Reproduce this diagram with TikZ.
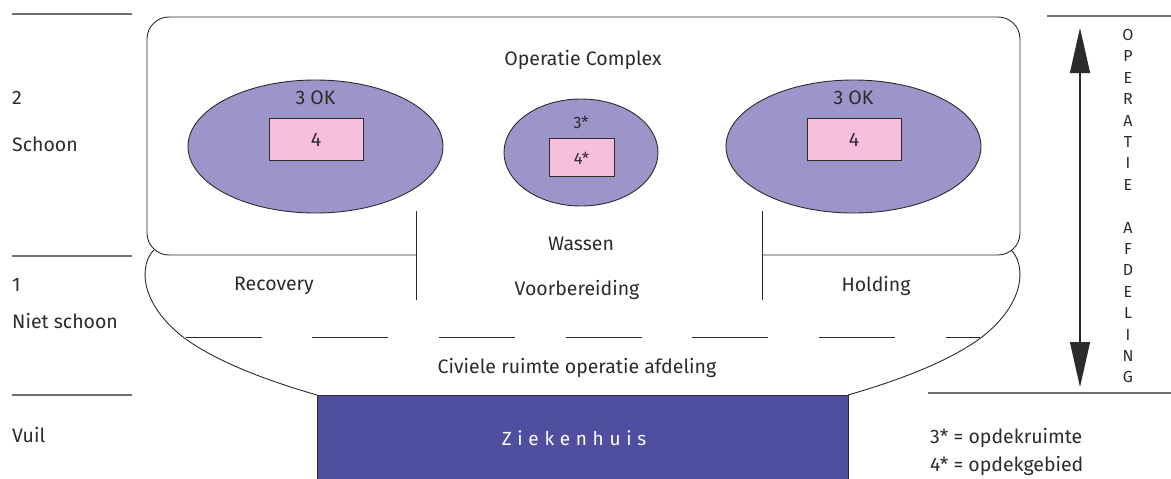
\documentclass[tikz,border=0pt]{standalone}
\usepackage{fontspec}
\setmainfont{Fira Sans}
\usetikzlibrary{arrows.meta,shapes.geometric}
\definecolor{ink}{HTML}{2B2B2B}
\definecolor{zone}{HTML}{707070}
\definecolor{otfill}{HTML}{9C95C9}
\definecolor{opfill}{HTML}{F6C0DC}
\definecolor{hospital}{HTML}{4F4FA0}
\tikzset{
  wall/.style={draw=ink, line width=0.9pt},
  zoneline/.style={draw=zone, line width=1.3pt},
  lbl/.style={text=ink, font=\fontsize{19.5}{22}\selectfont, inner sep=0pt},
  side/.style={lbl, anchor=west},
  otroom/.style={ellipse, draw=ink, line width=0.9pt, fill=otfill, inner sep=0pt},
  opfield/.style={rectangle, draw=ink, line width=0.9pt, fill=opfill, inner sep=0pt},
  vletter/.style={text=ink, font=\fontsize{16}{18}\selectfont, inner sep=0pt}
}
\begin{document}
\begin{tikzpicture}[x=1pt, y=-1pt]
\useasboundingbox (0,0) rectangle (1171,479);

% zone boundaries on the left and right
\draw[zoneline] (12,14) -- (132,14);
\draw[zoneline] (12,256) -- (132,256);
\draw[zoneline] (12,395) -- (132,395);
\draw[zoneline] (1047,16) -- (1171,16);
\draw[zoneline] (928,393) -- (1171,393);

% zone labels
\node[side] (n2) at (12,98) {2};
\node[side] (schoon) at (12,144) {Schoon};
\node[side] (n1) at (12,285) {1};
\node[side] (niet) at (12,321) {Niet schoon};
\node[side] (vuil) at (12,435) {Vuil};

% hospital block
\node[rectangle, draw=ink, line width=0.7pt, fill=hospital, minimum width=531pt, minimum height=90pt, anchor=north west, inner sep=0pt] (zh) at (317,395) {};
\node[text=white, font=\fontsize{19}{21}\selectfont\addfontfeature{LetterSpace=30}, inner sep=0pt] (zhtxt) at (574,438) {Ziekenhuis};

% operation complex (clean zone)
\draw[wall, rounded corners=22pt] (416,255) -| (147,17) -| (1020,255) -- (762,255);
\draw[wall] (416,211) -- (416,300);
\draw[wall] (762,211) -- (762,300);

% non-clean zone outline
\draw[wall] (154,250) .. controls (141,262) and (136,300) .. (183,337)
  .. controls (215,361) and (265,380) .. (317,395);
\draw[wall] (1011,250) .. controls (1024,262) and (1029,300) .. (982,337)
  .. controls (950,361) and (900,380) .. (848,395);
\draw[wall, dash pattern=on 76pt off 50.7pt] (185.5,337) -- (980,337);

% operating theatres
\node[otroom, minimum width=255pt, minimum height=133pt] (okl) at (315.5,146.5) {};
\node[lbl] (okltxt) at (315.5,98) {3 OK};
\node[opfield, minimum width=94pt, minimum height=42pt] (fl) at (316,139) {};
\node[lbl] (fltxt) at (316,140) {4};

\node[otroom, minimum width=255pt, minimum height=133pt] (okr) at (853.5,146.5) {};
\node[lbl] (okrtxt) at (853.5,98) {3 OK};
\node[opfield, minimum width=94pt, minimum height=42pt] (fr) at (854,139) {};
\node[lbl] (frtxt) at (854,140) {4};

\node[otroom, minimum width=154pt, minimum height=107pt] (okm) at (581,152.5) {};
\node[lbl, font=\fontsize{16.5}{18}\selectfont] (okmtxt) at (581,123) {3*};
\node[opfield, minimum width=65pt, minimum height=38pt] (fm) at (581.5,157) {};
\node[lbl, font=\fontsize{16.5}{18}\selectfont] (fmtxt) at (581.5,158) {4*};

% room labels
\node[lbl] (complex) at (583,60) {Operatie Complex};
\node[lbl] (wassen) at (581,244) {Wassen};
\node[lbl] (voorb) at (577,290) {Voorbereiding};
\node[lbl] (recov) at (274,286) {Recovery};
\node[lbl] (hold) at (876,286) {Holding};
\node[lbl] (civ) at (577,368) {Civiele ruimte operatie afdeling};

% extent of the operating department
\coordinate (atop) at (1080,28);
\coordinate (abot) at (1080,387);
\draw[draw=ink, line width=1.1pt, {Triangle[length=45pt,width=20pt]}-{Triangle[length=45pt,width=20pt]}] (atop) -- (abot);
\foreach \ch [count=\i from 0] in {O,P,E,R,A,T,I,E,{},A,F,D,E,L,I,N,G}
  \node[vletter] (v\i) at (1128,35+21.4*\i) {\ch};

% legend
\node[side] (leg3) at (930,438) {3* = opdekruimte};
\node[side] (leg4) at (930,466) {4* = opdekgebied};
\end{tikzpicture}
\end{document}
